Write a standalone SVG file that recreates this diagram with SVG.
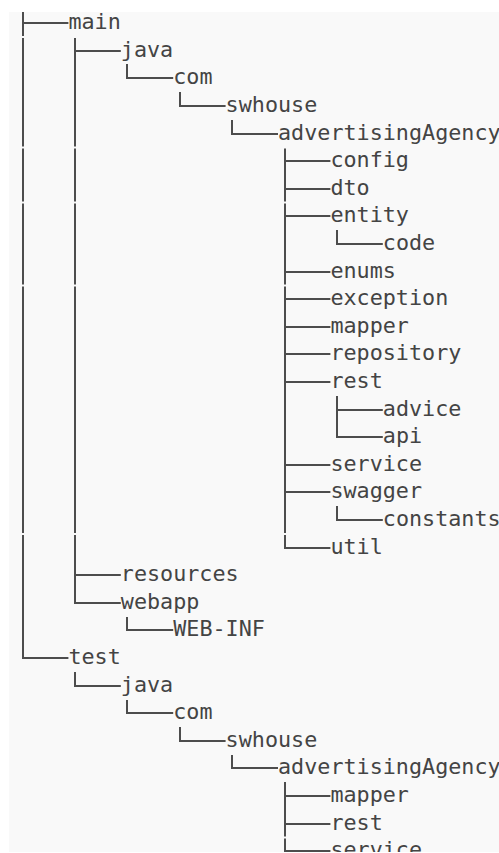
<svg xmlns="http://www.w3.org/2000/svg" width="499" height="853" viewBox="0 0 499 853">
  <style>
    .label { font-family: "DejaVu Sans Mono", "Liberation Mono", monospace; font-size: 21.76px; fill: #444444; }
    .tree { fill: none; stroke: #4d4d4d; stroke-width: 2; stroke-linejoin: miter; stroke-linecap: butt; }
  </style>
  <defs>
    <clipPath id="panel">
      <rect x="9" y="12" width="490" height="840"/>
    </clipPath>
  </defs>

  <rect x="0" y="0" width="499" height="853" fill="#ffffff"/>
  <rect x="9" y="12" width="490" height="840" fill="#f9f9f9"/>

  <g clip-path="url(#panel)">
    <!-- tree branches: one path per parent folder (spine + elbows) -->
    <g id="connectors" class="tree">
      <path d="M23 12 V36 M23 38 V146.5 M23 148.5 V201.5 M23 203.5 V284.5 M23 286.5 V533 M23 535 V658 H68.4 M23 23 H68.4"/>
      <path d="M75 38 V146.5 M75 148.5 V201.5 M75 203.5 V284.5 M75 286.5 V533 M75 535 V603 H120.8 M75 51 H120.8 M75 575 H120.8"/>
      <path d="M127 64 V78 H173.2"/>
      <path d="M180 92 V106 H225.6"/>
      <path d="M232 120 V134 H278"/>
      <path d="M285 148.5 V201.5 M285 203.5 V284.5 M285 286.5 V533 M285 535 V548 H330.4
               M285 161 H330.4 M285 189 H330.4 M285 216 H330.4 M285 272 H330.4 M285 299 H330.4
               M285 327 H330.4 M285 354 H330.4 M285 382 H330.4 M285 465 H330.4 M285 492 H330.4"/>
      <path d="M337 230 V244 H382.8"/>
      <path d="M337 396 V437 H382.8 M337 410 H382.8"/>
      <path d="M337 506 V520 H382.8"/>
      <path d="M127 617 V630 H173.2"/>
      <path d="M75 672 V686 H120.8"/>
      <path d="M127 700 V713 H173.2"/>
      <path d="M180 727 V741 H225.6"/>
      <path d="M232 755 V768 H278"/>
      <path d="M285 782 V836.5 M285 838.5 V851 H330.4 M285 796 H330.4 M285 824 H330.4"/>
    </g>

    <!-- src/main -->
    <g id="main"><text class="label" x="68.4" y="29">main</text></g>
    <g id="main-java"><text class="label" x="120.8" y="57">java</text></g>
    <g id="main-com"><text class="label" x="173.2" y="84">com</text></g>
    <g id="main-swhouse"><text class="label" x="225.6" y="112">swhouse</text></g>
    <g id="main-advertisingAgency"><text class="label" x="278" y="140">advertisingAgency</text></g>
    <g id="main-config"><text class="label" x="330.4" y="167">config</text></g>
    <g id="main-dto"><text class="label" x="330.4" y="195">dto</text></g>
    <g id="main-entity"><text class="label" x="330.4" y="222">entity</text></g>
    <g id="main-entity-code"><text class="label" x="382.8" y="250">code</text></g>
    <g id="main-enums"><text class="label" x="330.4" y="278">enums</text></g>
    <g id="main-exception"><text class="label" x="330.4" y="305">exception</text></g>
    <g id="main-mapper"><text class="label" x="330.4" y="333">mapper</text></g>
    <g id="main-repository"><text class="label" x="330.4" y="360">repository</text></g>
    <g id="main-rest"><text class="label" x="330.4" y="388">rest</text></g>
    <g id="main-rest-advice"><text class="label" x="382.8" y="416">advice</text></g>
    <g id="main-rest-api"><text class="label" x="382.8" y="443">api</text></g>
    <g id="main-service"><text class="label" x="330.4" y="471">service</text></g>
    <g id="main-swagger"><text class="label" x="330.4" y="498">swagger</text></g>
    <g id="main-swagger-constants"><text class="label" x="382.8" y="526">constants</text></g>
    <g id="main-util"><text class="label" x="330.4" y="554">util</text></g>
    <g id="main-resources"><text class="label" x="120.8" y="581">resources</text></g>
    <g id="main-webapp"><text class="label" x="120.8" y="609">webapp</text></g>
    <g id="main-webapp-web-inf"><text class="label" x="173.2" y="636">WEB-INF</text></g>

    <!-- src/test -->
    <g id="test"><text class="label" x="68.4" y="664">test</text></g>
    <g id="test-java"><text class="label" x="120.8" y="692">java</text></g>
    <g id="test-com"><text class="label" x="173.2" y="719">com</text></g>
    <g id="test-swhouse"><text class="label" x="225.6" y="747">swhouse</text></g>
    <g id="test-advertisingAgency"><text class="label" x="278" y="774">advertisingAgency</text></g>
    <g id="test-mapper"><text class="label" x="330.4" y="802">mapper</text></g>
    <g id="test-rest"><text class="label" x="330.4" y="830">rest</text></g>
    <g id="test-service"><text class="label" x="330.4" y="857">service</text></g>
  </g>
</svg>
